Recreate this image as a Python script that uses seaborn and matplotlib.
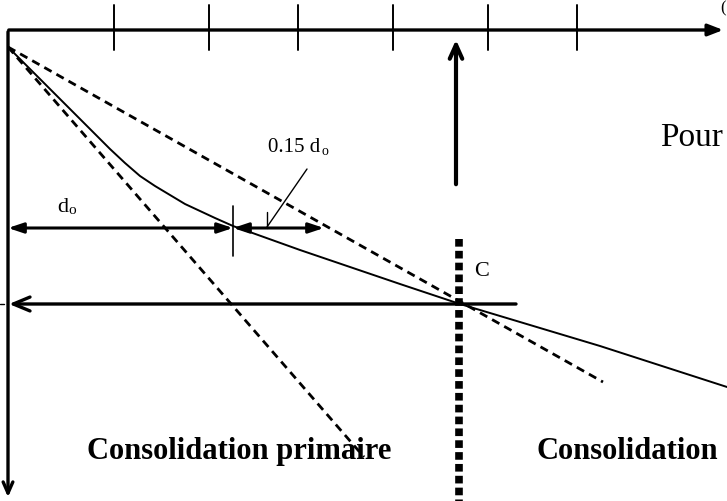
import matplotlib
matplotlib.use('Agg')
import matplotlib.pyplot as plt
import seaborn as sns
import pandas as pd

# courbe de tassement (coordonnees)
courbe_x = [8, 30, 60, 90, 110, 125, 140, 155, 170, 185, 200, 215, 233, 300, 400, 460, 600, 727]
courbe_y = [48, 70, 100, 130, 150, 164, 177, 187, 196, 205, 212, 219, 227, 251, 285, 305, 347, 388]

# tangentes en pointilles
tangente_x = [8, 603]
tangente_y = [48, 383]
pente_x = [8, 364]
pente_y = [48, 458]

# graduations de l'axe du temps
graduations = [114, 209, 298, 393, 488, 577]

sns.set_style('white')
serif = ['Liberation Serif', 'DejaVu Serif']

fig = plt.figure(figsize=(7.27, 5.02), dpi=100)
ax = fig.add_axes([0, 0, 1, 1])

df_courbe = pd.DataFrame({'x': courbe_x, 'y': courbe_y})
sns.lineplot(x='x', y='y', data=df_courbe, color='black', lw=1.4, sort=False, ax=ax)
sns.lineplot(x=tangente_x, y=tangente_y, color='black', lw=2, ax=ax, linestyle=(0, (3, 2)))
sns.lineplot(x=pente_x, y=pente_y, color='black', lw=2, ax=ax, linestyle=(0, (3, 2)))

# axes du diagramme
ax.annotate('', xy=(726, 31), xytext=(6, 31),
            arrowprops=dict(arrowstyle='-|>,head_length=0.9,head_width=0.35', lw=2.4, color='black'))
ax.annotate('', xy=(8, 501), xytext=(8, 30),
            arrowprops=dict(arrowstyle='->,head_length=0.8,head_width=0.35', lw=2.4, color='black'))
for gx in graduations:
    ax.plot([gx, gx], [6, 51], color='black', lw=1.4)

# fleche verticale vers le haut
ax.annotate('', xy=(456, 38), xytext=(456, 188),
            arrowprops=dict(arrowstyle='->,head_length=1.0,head_width=0.45', lw=3, color='black'))

# ligne pointillee en C
ax.plot([459, 459], [240, 502], color='black', lw=5.5, linestyle=(0, (1, 0.55)), solid_capstyle='butt')

# fleches d0 et 0.15 d0
ax.annotate('', xy=(8, 229), xytext=(233, 229),
            arrowprops=dict(arrowstyle='<|-|>,head_length=0.9,head_width=0.3', lw=2.2, color='black',
                            shrinkA=0, shrinkB=0))
ax.annotate('', xy=(233, 229), xytext=(324, 229),
            arrowprops=dict(arrowstyle='<|-|>,head_length=0.9,head_width=0.3', lw=2.2, color='black',
                            shrinkA=0, shrinkB=0))
ax.plot([233, 233], [207, 257], color='black', lw=1.2)
ax.plot([267, 267], [213, 229], color='black', lw=1)
ax.plot([307, 267], [170, 228], color='black', lw=1)

# fleche horizontale vers l'axe
ax.annotate('', xy=(9, 305), xytext=(516, 305),
            arrowprops=dict(arrowstyle='->,head_length=1.2,head_width=0.5', lw=2.4, color='black',
                            shrinkA=0, shrinkB=0))
ax.plot([0, 4], [305, 305], color='black', lw=1)

# textes
ax.text(57, 212, 'd', fontsize=16, family=serif, va='baseline', color='black')
ax.text(68, 214, 'o', fontsize=11, family=serif, va='baseline', color='black')
ax.text(268, 152, '0.15 d', fontsize=15, family=serif, va='baseline', color='black')
ax.text(321, 155, 'o', fontsize=10, family=serif, va='baseline', color='black')
ax.text(474, 276, 'C', fontsize=16, family=serif, va='baseline', color='black')
ax.text(660, 146, 'Pour', fontsize=24, family=serif, va='baseline', color='black')
ax.text(720, 8, '(', fontsize=12, family=serif, va='center', color='black')
ax.text(239, 452, 'Consolidation primaire', fontsize=22, family=serif, fontweight='bold',
        ha='center', va='center', color='black')
ax.text(536, 452, 'Consolidation', fontsize=22, family=serif, fontweight='bold',
        ha='left', va='center', color='black')

ax.set_xlim(0, 727)
ax.set_ylim(502, 0)
ax.axis('off')
fig.savefig('out.png', dpi=100)
